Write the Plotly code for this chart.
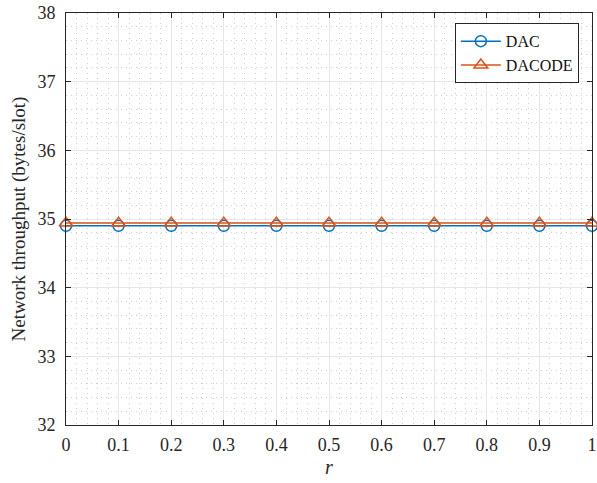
import plotly.graph_objects as go

r_values = [0, 0.1, 0.2, 0.3, 0.4, 0.5, 0.6, 0.7, 0.8, 0.9, 1.0]
dac = [34.90] * 11
dacode = [34.94] * 11
x_ticks = [0, 0.1, 0.2, 0.3, 0.4, 0.5, 0.6, 0.7, 0.8, 0.9, 1]
x_tick_labels = ["0", "0.1", "0.2", "0.3", "0.4", "0.5", "0.6", "0.7", "0.8", "0.9", "1"]
y_ticks = [32, 33, 34, 35, 36, 37, 38]

font_fam = "Liberation Serif"

fig = go.Figure()
fig.add_trace(go.Scatter(
    x=r_values, y=dac, mode="lines+markers", name="DAC", cliponaxis=False,
    line=dict(color="#0072BD", width=1.5),
    marker=dict(symbol="circle-open", size=11, color="#0072BD", line=dict(width=1.5)),
))
fig.add_trace(go.Scatter(
    x=r_values, y=dacode, mode="lines+markers", name="DACODE", cliponaxis=False,
    line=dict(color="#D95319", width=1.5),
    marker=dict(symbol="triangle-up-open", size=12, color="#D95319", line=dict(width=1.5)),
))

axis_common = dict(
    showline=True, linecolor="#262626", linewidth=1, mirror="ticks",
    ticks="inside", ticklen=5, tickcolor="#262626",
    showgrid=True, gridcolor="#e6e6e6", gridwidth=1,
    zeroline=False, automargin=False,
    ticklabeloverflow="allow",
    tickfont=dict(family=font_fam, size=18, color="#262626"),
)

fig.update_xaxes(
    range=[0, 1], tickvals=x_ticks, ticktext=x_tick_labels,
    minor=dict(dtick=0.02, showgrid=True, gridcolor="#cfcfcf", griddash="1px,4px", gridwidth=1, ticks=""),
    title=dict(text="<i>r</i>", font=dict(family=font_fam, size=20, color="#262626"), standoff=6),
    ticklabelstandoff=3,
    **axis_common,
)
fig.update_yaxes(
    range=[32, 38], tickvals=y_ticks,
    minor=dict(dtick=0.2, showgrid=True, gridcolor="#cfcfcf", griddash="1px,4px", gridwidth=1, ticks=""),
    title=dict(text="Network throughput (bytes/slot)", font=dict(family=font_fam, size=19, color="#262626"), standoff=6),
    ticklabelstandoff=6,
    **axis_common,
)

fig.update_layout(
    width=597, height=483,
    margin=dict(l=66, r=5, t=13, b=58, autoexpand=False),
    plot_bgcolor="white", paper_bgcolor="white",
    showlegend=True,
    font=dict(family=font_fam),
    legend=dict(
        x=0.975, y=0.975, xanchor="right", yanchor="top",
        bgcolor="white", bordercolor="#262626", borderwidth=1,
        font=dict(family=font_fam, size=16, color="#111111"),
        tracegroupgap=0, itemwidth=40,
    ),
)

fig.write_html("out.html")
